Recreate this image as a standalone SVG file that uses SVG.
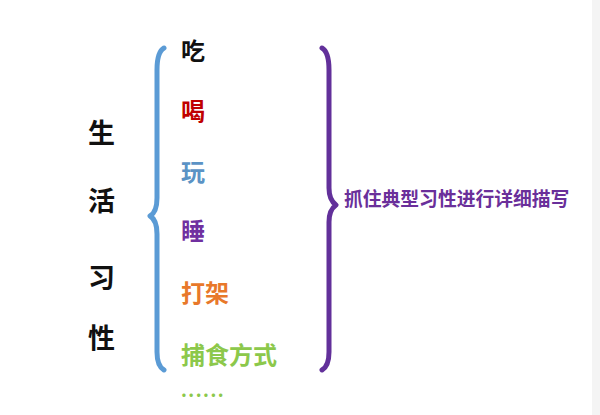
<svg xmlns="http://www.w3.org/2000/svg" width="600" height="415" viewBox="0 0 600 415">
<style>
text{font-family:"Noto Sans CJK SC","Noto Sans",sans-serif;font-weight:700}
.side{font-size:27px;fill:#111}
.item{font-size:24px}
.brace{fill:none;stroke-width:5;stroke-linecap:round;stroke-linejoin:round}
</style>
<rect width="600" height="415" fill="#fff"/>
<rect x="592" y="0" width="8" height="415" fill="#f4f4f4"/>
<g id="title">
<text class="side" x="88" y="143">生</text>
<text class="side" x="88" y="211">活</text>
<text class="side" x="88" y="288">习</text>
<text class="side" x="88" y="348">性</text>
</g>
<g id="connectors">
<path class="brace" stroke="#5b9bd5" d="M164,48 Q157,52 157,70 L157,198 Q157,212 150,216 Q157,220 157,234 L157,352 Q157,366 164,370"/>
<path class="brace" stroke="#62309a" d="M322,48 Q329,52 329,70 L329,188 Q329,200 336,205 Q329,210 329,222 L329,352 Q329,366 322,370"/>
</g>
<g id="items">
<text class="item" x="181" y="60" fill="#111">吃</text>
<text class="item" x="181" y="120" fill="#c00000">喝</text>
<text class="item" x="181" y="181" fill="#5b93c5">玩</text>
<text class="item" x="181" y="240" fill="#7030a0">睡</text>
<text class="item" x="181" y="302" fill="#e8782a">打架</text>
<text class="item" x="181" y="364" fill="#8cc84b">捕食方式</text>
<text x="181" y="397" font-size="18" letter-spacing="1.5" fill="#8cc84b">......</text>
</g>
<g id="label">
<text x="344" y="206" font-size="18.8" fill="#6a2f9a">抓住典型习性进行详细描写</text>
</g>
</svg>
